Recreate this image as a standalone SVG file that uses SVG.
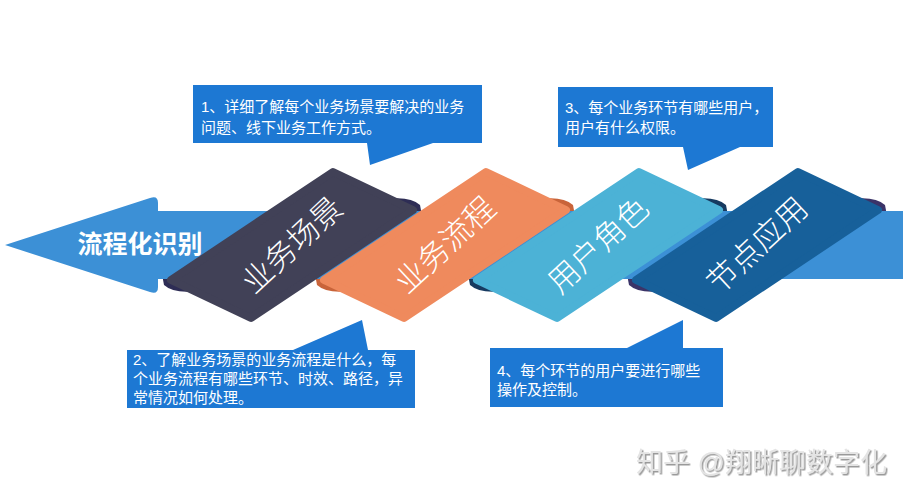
<svg xmlns="http://www.w3.org/2000/svg" width="908" height="500" viewBox="0 0 908 500">
<defs>
<style>
.band{fill:#3c90d6}
.face{stroke-linejoin:round;stroke-width:8}
.rt{font-family:"Noto Sans CJK SC","Liberation Sans",sans-serif;font-size:31px;font-weight:300;fill:#ffffff;text-anchor:middle}
.box{fill:#1d78d3}
.ct{font-family:"Liberation Sans","Noto Sans CJK SC",sans-serif;font-size:15px;fill:#ffffff}
.title{font-family:"Liberation Sans","Noto Sans CJK SC",sans-serif;font-size:25px;font-weight:bold;fill:#ffffff;text-anchor:middle}
.wm{font-family:"Liberation Sans","Noto Sans CJK SC",sans-serif;font-size:27px;fill:#e4e4e4}
</style>
<path id="fold" d="M-130,29 L-100,29 L-95,46 Q-118,49 -128,40 Z"/>
<path id="foldR" d="M130,-29 L100,-29 L95,-46 Q118,-49 128,-40 Z"/>
<path id="face" d="M41,-73 L121,-35 L-41,73 L-121,35 Z"/>
<filter id="sh" x="-10%" y="-30%" width="120%" height="160%">
<feDropShadow dx="1.5" dy="1.5" stdDeviation="0.6" flood-color="#9a9a9a" flood-opacity="1"/>
</filter>
</defs>
<rect width="908" height="500" fill="#ffffff"/>

<g id="folds">
<use href="#fold" x="292" y="245" fill="#2e2d55"/>
<use href="#foldR" x="292" y="245" fill="#2e2d55"/>
<use href="#fold" x="445" y="245" fill="#c9643a"/>
<use href="#foldR" x="445" y="245" fill="#c9643a"/>
<use href="#fold" x="598" y="245" fill="#163a60"/>
<use href="#foldR" x="598" y="245" fill="#163a60"/>
<use href="#fold" x="757" y="245" fill="#3b3468"/>
<use href="#foldR" x="757" y="245" fill="#3b3468"/>
</g>

<g id="arrow">
<path class="band" d="M5,245 L150,198 Q158,195 158,203 L158,211 L903,211 L903,279 L158,279 L158,287 Q158,295 150,292 Z"/>
<text class="title" x="140" y="253">流程化识别</text>
</g>

<g id="ribbon1" transform="translate(292,245)">
<use href="#face" class="face" fill="#414157" stroke="#414157"/>
<text class="rt" transform="rotate(-43)" y="11">业务场景</text>
</g>
<g id="ribbon2" transform="translate(445,245)">
<use href="#face" class="face" fill="#ef8a5d" stroke="#ef8a5d"/>
<text class="rt" transform="rotate(-43)" y="11">业务流程</text>
</g>
<g id="ribbon3" transform="translate(598,245)">
<use href="#face" class="face" fill="#4cb2d6" stroke="#4cb2d6"/>
<text class="rt" transform="rotate(-43)" y="11">用户角色</text>
</g>
<g id="ribbon4" transform="translate(757,245)">
<use href="#face" class="face" fill="#17609a" stroke="#17609a"/>
<text class="rt" transform="rotate(-43)" y="11">节点应用</text>
</g>

<g id="callout1">
<path class="box" d="M193,85 H482 V143 H433 L370,165 L367,143 H193 Z"/>
<text class="ct" x="201" y="112">1、详细了解每个业务场景要解决的业务</text>
<text class="ct" x="201" y="133">问题、线下业务工作方式。</text>
</g>
<g id="callout3">
<path class="box" d="M558,87 H773 V147 H740 L688,170 L683,147 H558 Z"/>
<text class="ct" x="565" y="113">3、每个业务环节有哪些用户，</text>
<text class="ct" x="565" y="133">用户有什么权限。</text>
</g>
<g id="callout2">
<path class="box" d="M127,350 H293 L362,320 L368,350 H415 V408 H127 Z"/>
<text class="ct" x="133" y="365">2、了解业务场景的业务流程是什么，每</text>
<text class="ct" x="133" y="384">个业务流程有哪些环节、时效、路径，异</text>
<text class="ct" x="133" y="403">常情况如何处理。</text>
</g>
<g id="callout4">
<path class="box" d="M490,348 H627 L683,320 L683,348 H723 V407 H490 Z"/>
<text class="ct" x="497" y="376">4、每个环节的用户要进行哪些</text>
<text class="ct" x="497" y="395">操作及控制。</text>
</g>

<g id="watermark">
<text class="wm" x="636" y="472" filter="url(#sh)">知乎 @翔晰聊数字化</text>
</g>
</svg>
